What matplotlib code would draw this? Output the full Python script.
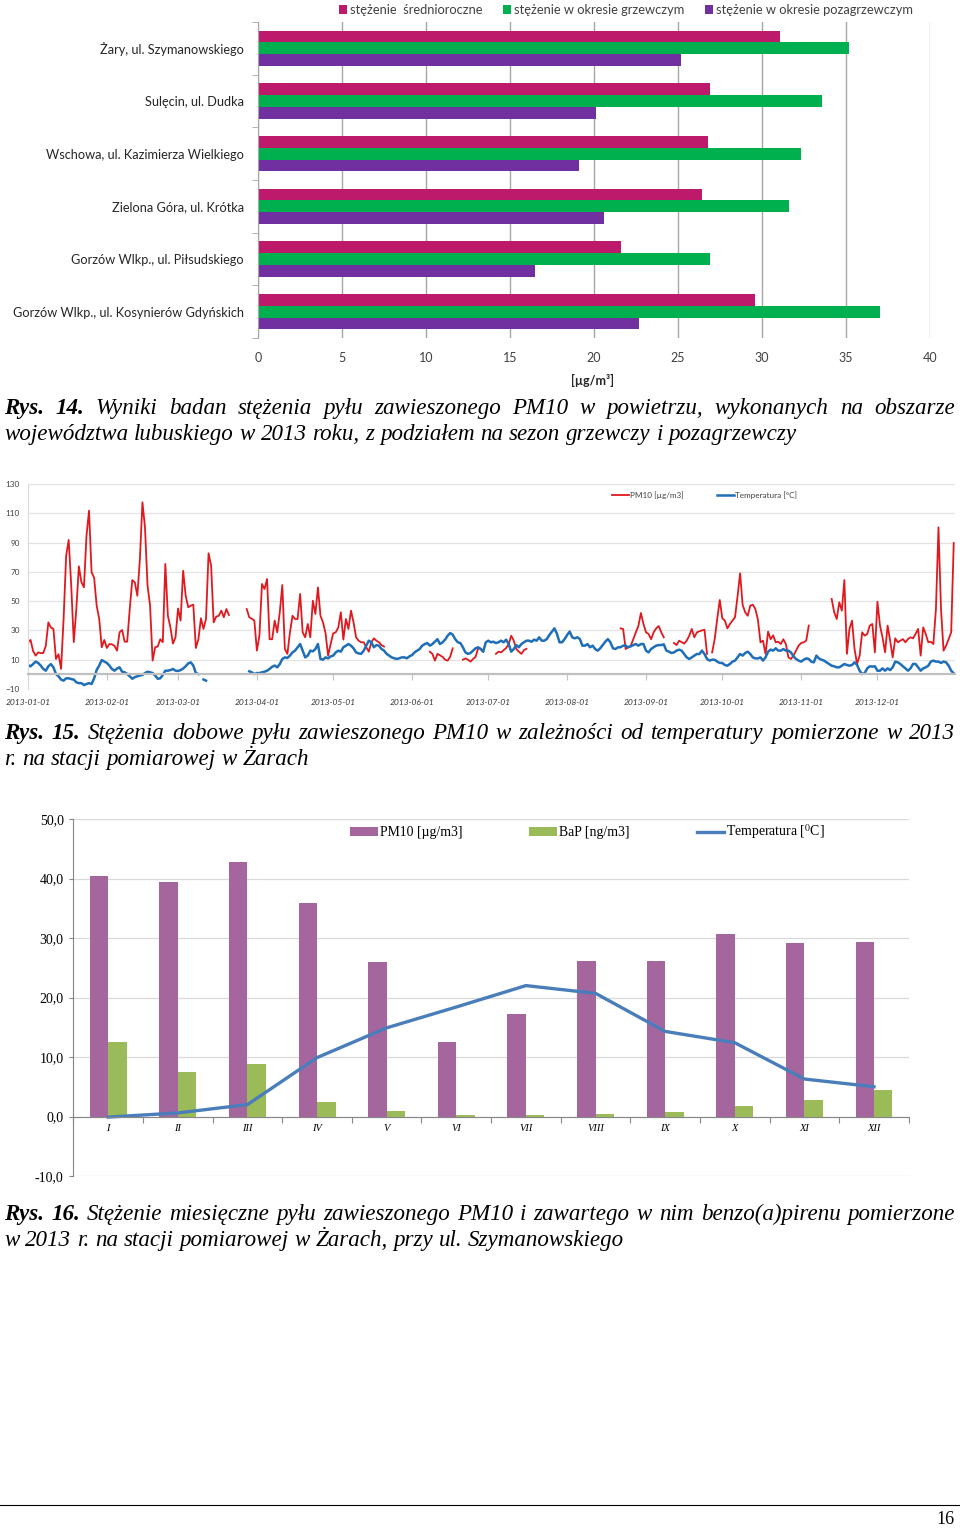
import numpy as np
import matplotlib
matplotlib.use('Agg')
import matplotlib.pyplot as plt
import matplotlib.dates as mdates
from matplotlib.lines import Line2D

W, H = 960, 1528

# ---------- Rys. 14 : srednie stezenia PM10 na stacjach ----------
stations = ['Żary, ul. Szymanowskiego', 'Sulęcin, ul. Dudka',
            'Wschowa, ul. Kazimierza Wielkiego', 'Zielona Góra, ul. Krótka',
            'Gorzów Wlkp., ul. Piłsudskiego', 'Gorzów Wlkp., ul. Kosynierów Gdyńskich']
srednioroczne = [31.1, 26.9, 26.8, 26.4, 21.6, 29.6]
grzewczy = [35.2, 33.6, 32.3, 31.6, 26.9, 37.0]
pozagrzewczy = [25.2, 20.1, 19.1, 20.6, 16.5, 22.7]

# ---------- Rys. 15 : dobowe PM10 i temperatura (odcinki z przerwami) ----------
pm10_starts = ['2013-01-01', '2013-03-28', '2013-06-08', '2013-06-21', '2013-07-04',
               '2013-08-22', '2013-09-12', '2013-09-27', '2013-11-13']
pm10_values = [
    [21.9, 23.5, 16, 12.8, 15, 14.5, 14.5, 19.5, 35.5, 32, 31, 10.5, 13.7, 3.7, 38, 81, 91.8, 60.6,
     22, 44.6, 73.8, 63, 59.4, 94.7, 111.8, 69.7, 66, 46.9, 37.8, 18.5, 23.5, 18, 20.7, 20.5, 19.5,
     16.2, 28.7, 30.3, 22.3, 22.3, 44.6, 64.4, 62.8, 53.7, 78.8, 117.5, 100.4, 60.6, 46.9, 9.4, 18.5,
     19, 24, 22, 75.4, 40, 32, 21, 25.3, 45, 36.7, 70.8, 53.7, 45.8, 46.9, 47.6, 18, 24, 38.3, 31,
     38, 82.7, 74.3, 35.5, 39.4, 40, 43.5, 39, 44.6, 40.5],
    [44.6, 39, 38, 36.7, 16.2, 26.6, 61.7, 58.3, 65.1, 24, 24, 36.7, 28.7, 42.4, 61, 17.3, 14, 28.7,
     40, 37.8, 37.8, 54.9, 28.7, 25.3, 34.4, 25.3, 50.3, 41.2, 59.4, 40, 35.5, 28, 12.8, 20.7, 28,
     28.7, 32, 42.4, 23.7, 37.8, 31, 43.5, 35.5, 25.3, 23, 21.9, 21.9, 18.5, 15.5, 21.9, 24.6, 23,
     21.9, 20, 19],
    [15.5, 14, 9.4, 14, 13, 12, 10, 9.4, 12, 17.8],
    [10, 10.9, 10, 8.7, 10.5, 12, 17.8, 17.6, 15.5],
    [14, 15.5, 15, 16.5, 18, 20.5, 26.4, 23, 17.3, 15.5, 14, 16.5, 17.5],
    [31.4, 31, 17.3, 18.5, 19.5, 24, 28.7, 33, 41.9, 34.4, 28.7, 27.6, 24, 28.7, 31.4, 33, 28.7, 25.3],
    [21.4, 20, 23, 22, 21, 23, 26.4, 31, 25.3, 28.7, 29.4, 30, 30.5, 14],
    [15, 24, 37.8, 50.8, 38.3, 36.7, 31.4, 34.4, 36.7, 39, 53.3, 69, 47.4, 42.4, 40, 46.9, 47.6,
     44.6, 37.4, 21.9, 23, 14, 29.2, 24, 26.6, 21.9, 22.3, 20.7, 24, 20.7, 11.6, 10.5, 12.8, 16.2,
     19.6, 21.4, 21.9, 23, 33.3],
    [51.5, 42.4, 37.8, 49.2, 43.5, 64.4, 14, 31, 36.7, 17.3, 7.1, 12.8, 28.7, 26.4, 27.6, 33.3,
     34.4, 15, 49.6, 33.3, 25.3, 15, 33.3, 23, 11.6, 24.6, 21.9, 23, 24.1, 21.9, 24.1, 25.3, 24.6,
     27.6, 31, 12.8, 32.1, 27.5, 21.9, 22.3, 20.7, 44.6, 100.4, 44.6, 16.2, 19.6, 24.1, 28.7, 89.7],
]

temp_starts = ['2013-01-01', '2013-03-11', '2013-03-29']
temp_values = [
    [6.4, 5.5, 7, 8.7, 7.8, 6, 3.7, 2.5, 5.5, 7, 4.8, 0.3, -1.3, -3.6, -4.3, -2.7, -2.7, -3.2, -3.6,
     -5.4, -6, -6, -7.3, -6.6, -6, -6.6, -2.7, 3, 6, 9.8, 8.7, 7.8, 6, 3.7, 2.5, 4, 4.8, 1.8, 1.4,
     0.3, -1.3, -3, -1.9, -1.3, -0.8, -0.4, 0.9, 1.8, 1.4, 0.9, -0.8, -3, -2.7, -0.4, 2.5, 2.5, 2.9,
     3.7, 2.5, 2.3, 2.9, 4, 5.5, 7.5, 8.2, 6, 0.9, 0.2],
    [-3.5, -4.3],
    [2.1, 1.4, 0.2, 0.9, 0.9, 1.4, 1.8, 2.5, 3.7, 5.2, 6, 4.8, 7, 10.5, 11.6, 11.2, 12.8, 15, 16.2,
     18.5, 20.7, 16.2, 11.6, 12.8, 16.2, 15.7, 17.3, 20.7, 10.5, 10, 11.6, 10.9, 12.3, 12.8, 15,
     16.2, 15.5, 18.5, 19.6, 20.7, 19.6, 17.8, 15, 14.3, 14, 16.2, 19.6, 23, 21.9, 18.5, 20, 19.6,
     17.3, 16.2, 14, 12.8, 11.6, 11, 10.5, 11, 11.6, 11.6, 11, 12.3, 13.2, 15, 16.2, 17.3, 19.6,
     20.7, 21.4, 19.6, 20.7, 22.3, 24, 20.7, 21.9, 23.7, 26.4, 28.2, 27.1, 24, 21.9, 21.4, 18.5, 15,
     14, 14.6, 16.2, 17.8,
     18.5, 17.3, 15.5, 21.9, 23, 21.9, 22.3, 21.4, 21.9, 23, 21.9, 23.7, 20.7, 15.5, 17.3, 20, 18.5,
     20.7, 21.9, 23, 23, 22.3, 23.7, 23, 25.3, 23, 23, 24.1, 26.9, 29.2, 31.4, 27.6, 21.9, 21.9,
     24.1, 26.9, 29.2, 25.3, 24.6, 25.3, 24.1, 19.6, 19.6, 20.7, 18.5, 19.6, 17.3, 16.2, 17.8, 20,
     22.3, 24.1, 21.9, 17.8, 17.3, 18.5, 18.5, 19.6, 19.6, 18.5, 19.1, 20, 20.7, 19.6, 20.7, 20.7,
     16.2, 15, 17.3, 18.5, 19.6, 20, 20, 20.5, 16.2, 15.5, 14.6, 15, 16.2, 16.9, 16.2, 13.9, 11.6,
     10.5, 11.6, 12.8, 13.9, 13.9, 16.2, 13.9, 10.5, 9.4, 10, 10, 8.7, 7.8, 7.8, 6.4, 5.9, 7.1, 8.7,
     9.4, 11.6, 13.9, 12.8, 14.6, 15.5, 13.9, 11.6, 10.9, 10.9, 11.6, 9.4, 11.6, 15.5, 16.9, 16.2,
     17.8, 16.2, 16.2, 17.3, 16.2, 16.2, 15, 12.3, 10.5, 9.4, 8.7, 10, 10.9, 10.5, 8.7, 8.2, 12.8,
     10.9, 10, 9.4, 8.2, 7.1, 5.9, 5.5, 4.8, 4.8, 5.9, 7.1, 6.4, 5.9, 6.4, 8.2, 6.4, 2.5, 0.2, 0.9,
     4.1, 5.5, 5.3, 5.5, 2.5, 2.5, 4.1, 2.5, 4.1, 2.9, 4.8, 8.7, 8.2, 7.1, 5.5, 4.1, 2.5, 4.1, 7.1,
     7.1, 4.8, 2.5, 4.1, 4.8, 5.9, 8.7, 9.4, 8.7, 8.7, 7.8, 8.7, 8.2, 5.9, 2.5, 0.7],
]

# ---------- Rys. 16 : srednie miesieczne ----------
months = ['I', 'II', 'III', 'IV', 'V', 'VI', 'VII', 'VIII', 'IX', 'X', 'XI', 'XII']
pm10_month = [40.5, 39.4, 42.7, 35.8, 25.9, 12.6, 17.3, 26.2, 26.2, 30.7, 29.2, 29.3]
bap_month = [12.5, 7.4, 8.9, 2.4, 1.0, 0.2, 0.2, 0.4, 0.8, 1.7, 2.7, 4.5]
temp_month = [-0.1, 0.6, 2.0, 9.9, 14.9, 18.4, 22.0, 20.7, 14.3, 12.4, 6.3, 5.0]

captions = [
    ('Rys. 14.', 'Wyniki badan stężenia pyłu zawieszonego PM10 w powietrzu, wykonanych na obszarze',
     'województwa lubuskiego w 2013 roku, z podziałem na sezon grzewczy i pozagrzewczy'),
    ('Rys. 15.', 'Stężenia dobowe pyłu zawieszonego PM10 w zależności od temperatury pomierzone w 2013',
     'r. na stacji pomiarowej w Żarach'),
    ('Rys. 16.', 'Stężenie miesięczne pyłu zawieszonego PM10 i zawartego w nim benzo(a)pirenu pomierzone',
     'w 2013 r. na stacji pomiarowej w Żarach, przy ul. Szymanowskiego'),
]
caption_y = [(414, 440), (739, 765), (1220, 1246)]

fig = plt.figure(figsize=(W / 100, H / 100), dpi=100)


def box(x0, y0, x1, y1):
    return fig.add_axes([x0 / W, 1 - y1 / H, (x1 - x0) / W, (y1 - y0) / H])


# ===== wykres 1 =====
sans = 'Lato'
ax1 = box(258, 22, 930, 338)
y = np.arange(len(stations))
h = 0.222
ax1.barh(y - h, srednioroczne, h, color='#BE1A6C', label='stężenie  średnioroczne')
ax1.barh(y, grzewczy, h, color='#00B04F', label='stężenie w okresie grzewczym')
ax1.barh(y + h, pozagrzewczy, h, color='#7030A0', label='stężenie w okresie pozagrzewczym')
ax1.set_xlim(0, 40)
ax1.set_ylim(5.5, -0.5)
ax1.set_xticks(range(0, 41, 5))
ax1.grid(axis='x', color='#a6a6a6', lw=1)
ax1.set_axisbelow(True)
for s in ['top', 'right', 'bottom']:
    ax1.spines[s].set_visible(False)
ax1.spines['left'].set_color('#a6a6a6')
ax1.set_yticks(y, stations, family=sans, fontsize=9.2, color='#262626')
ax1.set_yticks(np.arange(-0.5, 6, 1), minor=True)
ax1.tick_params(axis='y', which='major', length=0, pad=10)
ax1.tick_params(axis='y', which='minor', length=4, color='#a6a6a6')
ax1.tick_params(axis='x', length=0, pad=10, labelsize=9, labelcolor='#404040')
for t in ax1.get_xticklabels():
    t.set_family(sans)
ax1.set_xlabel('[µg/m³]', family=sans, fontsize=9, fontweight='bold', color='#262626')
ax1.xaxis.set_label_coords((593 - 258) / 672, -(380 - 338) / 316, transform=ax1.transAxes)
ax1.xaxis.label.set_va('center')
ax1.legend(ncol=3, loc='center left', bbox_to_anchor=(339 / W, 1 - 10 / H),
           bbox_transform=fig.transFigure, frameon=False, borderpad=0, borderaxespad=0,
           handlelength=0.6, handleheight=0.6, handletextpad=0.25, columnspacing=1.6,
           prop={'family': sans, 'size': 9.3}, labelcolor='#404040')

# ===== wykres 2 =====
ax2 = box(28, 484, 955, 689)
for s0, v in zip(pm10_starts, pm10_values):
    d = np.datetime64(s0) + np.arange(len(v))
    ax2.plot(d, v, color='#E0191F', lw=1.3)
for s0, v in zip(temp_starts, temp_values):
    d = np.datetime64(s0) + np.arange(len(v))
    keep = d <= np.datetime64('2013-12-31')
    ax2.plot(d[keep], np.array(v)[keep], color='#1F6EB8', lw=1.8)
ax2.set_xlim(np.datetime64('2013-01-01'), np.datetime64('2013-12-31T12:00'))
ax2.set_ylim(-10, 130)
ax2.set_yticks(range(-10, 131, 20))
ax2.grid(axis='y', color='#e3e3e3', lw=0.9)
ax2.set_axisbelow(True)
for s in ['top', 'right']:
    ax2.spines[s].set_visible(False)
ax2.spines['left'].set_color('#d9d9d9')
ax2.spines['bottom'].set_position(('data', 0))
ax2.spines['bottom'].set_color('#c0c0c0')
ax2.spines['bottom'].set_linewidth(1.6)
ax2.xaxis.set_major_locator(mdates.MonthLocator())
ax2.xaxis.set_major_formatter(mdates.DateFormatter('%Y-%m-%d'))
ax2.tick_params(axis='x', length=4, color='#c0c0c0', pad=13.5, labelsize=6.1, labelcolor='#333333')
ax2.tick_params(axis='y', length=0, pad=6, labelsize=5.9, labelcolor='#404040')
for t in ax2.get_xticklabels():
    t.set_family(sans)
    t.set_style('italic')
for t in ax2.get_yticklabels():
    t.set_family(sans)
leg2 = [Line2D([], [], color='#E0191F', lw=1.3), Line2D([], [], color='#1F6EB8', lw=1.8)]
ax2.legend(leg2, ['PM10 [µg/m3]', 'Temperatura [°C]'], ncol=2, loc='center left',
           bbox_to_anchor=(612 / W, 1 - 495 / H), bbox_transform=fig.transFigure, frameon=False,
           borderpad=0, borderaxespad=0, handlelength=2.1, handletextpad=0.1, columnspacing=4.0,
           prop={'family': sans, 'size': 5.9}, labelcolor='#404040')

# ===== wykres 3 =====
serif = 'Liberation Serif'
plt.rcParams['mathtext.fontset'] = 'stix'
ax3 = box(73.4, 819, 908.8, 1176)
x = np.arange(len(months))
bw = 0.265
b1 = ax3.bar(x - bw / 2, pm10_month, bw, color='#A5669E')
b2 = ax3.bar(x + bw / 2, bap_month, bw, color='#9BBB59')
l3, = ax3.plot(x, temp_month, color='#4A7EBB', lw=2.4)
ax3.set_xlim(-0.5, 11.5)
ax3.set_ylim(-10, 50)
ax3.set_yticks(range(-10, 51, 10), [f'{v:.1f}'.replace('.', ',') for v in range(-10, 51, 10)],
               family=serif, fontsize=10)
ax3.yaxis.grid(True, color='#d9d9d9', lw=0.9)
ax3.set_axisbelow(True)
for s in ['top', 'right']:
    ax3.spines[s].set_visible(False)
ax3.spines['left'].set_color('#868686')
ax3.spines['bottom'].set_position(('data', 0))
ax3.spines['bottom'].set_color('#868686')
ax3.set_xticks(np.arange(-0.5, 12, 1), [''] * 13)
ax3.set_xticks(x, months, minor=True, family=serif, style='italic', fontsize=7.5)
ax3.tick_params(axis='x', which='major', length=4, color='#868686')
ax3.tick_params(axis='x', which='minor', length=0, pad=5.5)
ax3.tick_params(axis='y', length=3, color='#868686', pad=4)
ax3.legend([b1, b2, l3], ['PM10 [µg/m3]', 'BaP [ng/m3]', 'Temperatura [$^{0}$C]'],
           ncol=3, loc='center left', bbox_to_anchor=(350 / W, 1 - 832 / H),
           bbox_transform=fig.transFigure, frameon=False, borderpad=0, borderaxespad=0,
           handlelength=2.0, handleheight=0.72, handletextpad=0.15, columnspacing=4.9,
           prop={'family': serif, 'size': 9.9})

# ===== podpisy =====
renderer = fig.canvas.get_renderer()
csize = 16.6


def caption_line(words, y_px, justify, bold_n=0):
    arts = []
    for i, w in enumerate(words):
        arts.append(fig.text(0, 1 - y_px / H, w, fontsize=csize, family=serif, style='italic',
                             fontweight='bold' if i < bold_n else 'normal', va='baseline'))
    widths = [a.get_window_extent(renderer).width for a in arts]
    sp = fig.text(0, 0, 'a a', fontsize=csize, family=serif, style='italic')
    sp2 = fig.text(0, 0, 'aa', fontsize=csize, family=serif, style='italic')
    space = sp.get_window_extent(renderer).width - sp2.get_window_extent(renderer).width
    sp.remove()
    sp2.remove()
    x0, x1 = 4, 955
    gap = (x1 - x0 - sum(widths)) / (len(words) - 1) if justify else space
    xp = x0
    for a, w in zip(arts, widths):
        a.set_x(xp / W)
        xp += w + gap


for (lab, l1, l2), (y1, y2) in zip(captions, caption_y):
    caption_line(lab.split() + l1.split(), y1, True, bold_n=2)
    caption_line(l2.split(), y2, False)

fig.add_artist(Line2D([0, 1], [1 - 1505 / H, 1 - 1505 / H], color='black', lw=0.8))
fig.text(945 / W, 1 - 1520 / H, '16', ha='center', va='center', family=serif, fontsize=13)

fig.savefig('out.png', dpi=100)
